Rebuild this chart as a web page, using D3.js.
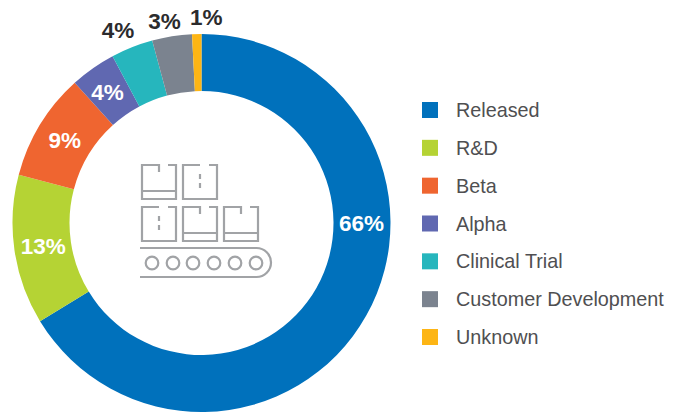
<!DOCTYPE html>
<html>
<head>
<meta charset="utf-8">
<script src="https://cdn.jsdelivr.net/npm/d3@7"></script>
<style>
  html, body { margin: 0; padding: 0; background: #fff; }
  svg { display: block; font-family: "Liberation Sans", Arial, sans-serif; }
  .legend-label { font-size: 19.8px; fill: #4f4f51; }
  .pct { font-size: 22.5px; font-weight: bold; text-anchor: middle; }
  .icon * { fill: none; stroke: #a1a3a6; stroke-width: 2.2; }
</style>
</head>
<body>
<svg width="679" height="414"></svg>
<script>
// values, going clockwise from 12 o'clock
const categories = ['Released', 'R&D', 'Beta', 'Alpha', 'Clinical Trial', 'Customer Development', 'Unknown'];
const shares = [66.3, 12.8, 9.2, 3.9, 3.6, 3.4, 0.8];
const pctLabels = ['66%', '13%', '9%', '4%', '4%', '3%', '1%'];
const colors = ['#0071bc', '#b5d334', '#ef6530', '#6068b1', '#26b6bd', '#7b838f', '#fdb515'];

const svg = d3.select('svg');
const cx = 201.5, cy = 223, outerR = 189, innerR = 132;

const color = d3.scaleOrdinal().domain(categories).range(colors);
const pie = d3.pie().sort(null).value(d => d.value);
const arc = d3.arc().innerRadius(innerR).outerRadius(outerR);

const rows = categories.map((c, i) => ({ name: c, value: shares[i], label: pctLabels[i] }));
const slices = pie(rows);

const donut = svg.append('g').attr('transform', `translate(${cx},${cy})`);

donut.selectAll('path')
  .data(slices)
  .join('path')
  .attr('d', arc)
  .attr('fill', d => color(d.data.name));

// first four labels sit on the ring in white, the small ones go outside
const labelRadius = [160, 160, 160, 160, 208, 205, 206];
const labelNudge = [0, 0, 0, -2, -7, -5, 10];

// the big slice has its label at 3 o'clock, not at the middle of the slice
const labelAngle = d => d.index === 0 ? Math.PI / 2 : (d.startAngle + d.endAngle) / 2;

donut.selectAll('text')
  .data(slices)
  .join('text')
  .attr('class', 'pct')
  .attr('x', d => Math.sin(labelAngle(d)) * labelRadius[d.index] + labelNudge[d.index])
  .attr('y', d => -Math.cos(labelAngle(d)) * labelRadius[d.index] + 8)
  .attr('fill', d => d.index < 4 ? '#fff' : '#2b2b2d')
  .text(d => d.data.label);

// legend
const legendY = d3.scalePoint().domain(categories).range([110, 337]);

const legend = svg.selectAll('.legend')
  .data(categories)
  .join('g')
  .attr('class', 'legend')
  .attr('transform', d => `translate(422,${legendY(d)})`);

legend.append('rect')
  .attr('y', -8)
  .attr('width', 16)
  .attr('height', 16)
  .attr('fill', d => color(d));

legend.append('text')
  .attr('class', 'legend-label')
  .attr('x', 34)
  .attr('y', 7)
  .text(d => d);

// conveyor icon in the middle of the ring
const icon = svg.append('g').attr('class', 'icon');

// [x, y, kind] kind is 'band' (strip along the bottom) or 'dash' (dashed centre)
const boxes = [
  [142, 165, 'band'], [183, 165, 'dash'],
  [142, 207, 'dash'], [183, 207, 'band'], [224, 207, 'band']
];
const boxW = 34, boxH = 34;

boxes.forEach(([x, y, kind]) => {
  const gapL = x + 17, gapR = x + 26;
  if (kind === 'band') {
    icon.append('path').attr('d',
      `M${gapL},${y + 7}V${y}H${x}V${y + boxH}H${x + boxW}V${y}H${gapR}`);
    icon.append('path').attr('d', `M${x},${y + boxH - 8}H${x + boxW}`);
  } else {
    icon.append('path').attr('d',
      `M${gapL},${y}H${x}V${y + boxH}H${x + boxW}V${y}H${gapR}`);
    icon.append('path').attr('d', `M${gapL},${y + 9}V${y + 25}`).attr('stroke-dasharray', '5 4');
  }
});

icon.append('path').attr('d', 'M140,248H256.5A14.5,14.5 0 0 1 256.5,277H140');

const rollers = [152, 173, 193, 214, 235, 256];
icon.selectAll('circle')
  .data(rollers)
  .join('circle')
  .attr('cx', d => d)
  .attr('cy', 263)
  .attr('r', 6.3);
</script>
</body>
</html>
